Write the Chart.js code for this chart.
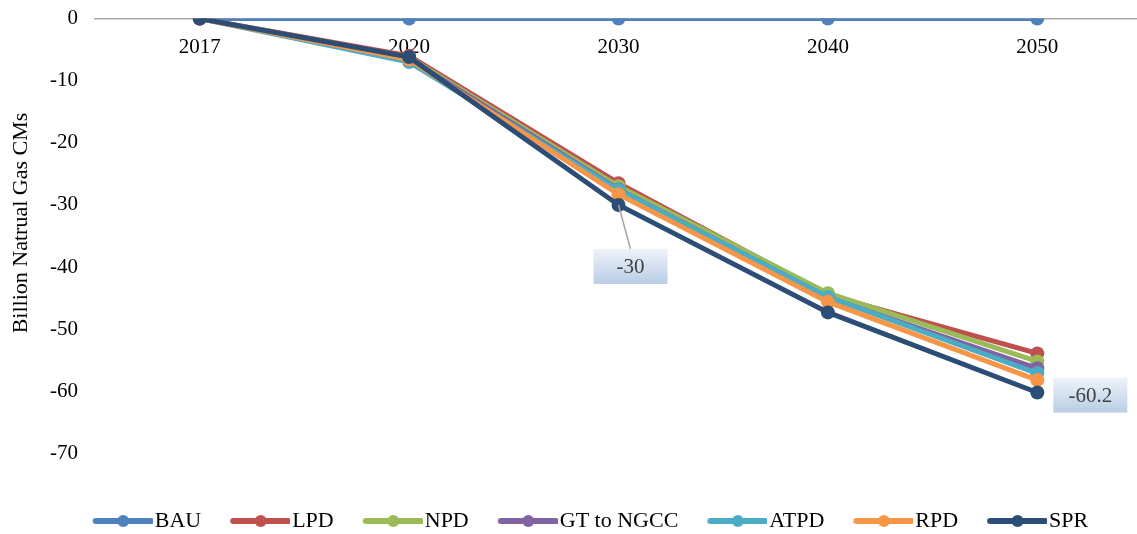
<!DOCTYPE html>
<html>
<head>
<meta charset="utf-8">
<script src="https://cdn.jsdelivr.net/npm/chart.js@4.4.1/dist/chart.umd.min.js"></script>
<style>
  html, body { margin: 0; padding: 0; background: #fff; overflow: hidden; }
  #wrap { width: 1149px; height: 545px; position: relative; margin-top: -11px; }
</style>
</head>
<body>
<div id="wrap"><canvas id="chart"></canvas></div>
<script>
const years = ['2017', '2020', '2030', '2040', '2050'];
const seriesNames = ['BAU', 'LPD', 'NPD', 'GT to NGCC', 'ATPD', 'RPD', 'SPR'];
const bau  = [0, 0, 0, 0, 0];
const lpd  = [0, -6.0, -26.5, -44.5, -53.9];
const npd  = [0, -6.3, -27.0, -44.2, -55.2];
const gt   = [0, -6.5, -27.5, -44.9, -56.3];
const atpd = [0, -7.0, -27.6, -44.8, -57.1];
const rpd  = [0, -6.6, -28.3, -45.6, -58.2];
const spr  = [0, -6.2, -30.0, -47.3, -60.2];
const yTicks = [0, -10, -20, -30, -40, -50, -60, -70];
const yTitle = 'Billion Natrual Gas CMs';
const colors = ['#4f81bd', '#c0504d', '#9bbb59', '#8064a2', '#4bacc6', '#f79646', '#2c4d75'];

const allSeries = [bau, lpd, npd, gt, atpd, rpd, spr];
const font = 'Liberation Serif';

// legend swatch: line + marker, with some blank room on the left as item spacing
const SW_BOX = 70;      // pointStyleWidth
const SW_IMG = 88;      // image width, centred on the box
function swatch(color) {
    const c = document.createElement('canvas');
    c.width = SW_IMG; c.height = 16;
    const g = c.getContext('2d');
    const off = SW_IMG / 2 - SW_BOX / 2;   // image x of box left edge
    const x0 = off + 22, x1 = off + 77;
    g.strokeStyle = color; g.lineWidth = 6; g.lineCap = 'round';
    g.beginPath(); g.moveTo(x0, 8); g.lineTo(x1, 8); g.stroke();
    g.fillStyle = color;
    g.beginPath(); g.arc((x0 + x1) / 2, 8, 6, 0, Math.PI * 2); g.fill();
    return c;
}

// callout labels on SPR points
const callouts = [
    { idx: 2, text: '-30', dx: 12, dy: 44, leader: true },
    { idx: 4, text: '-60.2', dx: 16, dy: -15, leader: false }
];
const calloutPlugin = {
    id: 'callouts',
    afterDatasetsDraw(chart) {
        const ctx = chart.ctx;
        const xs = chart.scales.x, ys = chart.scales.y;
        callouts.forEach(c => {
            const px = xs.getPixelForValue(c.idx);
            const py = ys.getPixelForValue(spr[c.idx]);
            const w = 74, h = 35;
            const bx = c.leader ? px + c.dx - w / 2 : px + c.dx;
            const by = py + c.dy;
            ctx.save();
            if (c.leader) {
                ctx.strokeStyle = '#a6a6a6'; ctx.lineWidth = 1.5;
                ctx.beginPath(); ctx.moveTo(px, py); ctx.lineTo(px + c.dx, by); ctx.stroke();
            }
            const grad = ctx.createLinearGradient(0, by, 0, by + h);
            grad.addColorStop(0, '#eef3fa');
            grad.addColorStop(1, '#b9cde5');
            ctx.fillStyle = grad;
            ctx.fillRect(bx, by, w, h);
            ctx.fillStyle = '#404040';
            ctx.font = '21px ' + font;
            ctx.textAlign = 'center'; ctx.textBaseline = 'middle';
            ctx.fillText(c.text, bx + w / 2, by + h / 2 + 1);
            ctx.restore();
        });
    },
    // y axis title sits above the middle in the original
    afterDraw(chart) {
        const ctx = chart.ctx;
        ctx.save();
        ctx.translate(21, 234);
        ctx.rotate(-Math.PI / 2);
        ctx.fillStyle = '#000';
        ctx.font = '22px ' + font;
        ctx.textAlign = 'center'; ctx.textBaseline = 'middle';
        ctx.fillText(yTitle, 0, 0);
        ctx.restore();
    }
};

// squeeze the legend box and nudge it right like the original
const legendTweak = {
    id: 'legendTweak',
    beforeLayout(chart) {
        const lg = chart.legend;
        if (lg && !lg._tweaked) {
            const fit = lg.fit;
            lg.fit = function() { fit.call(this); this.height = 34; };
            lg._tweaked = true;
        }
    },
    afterLayout(chart) {
        const lg = chart.legend;
        lg.left += 8; lg.right += 8;
    }
};

new Chart(document.getElementById('chart'), {
    type: 'line',
    data: {
        labels: years,
        datasets: allSeries.map((d, i) => ({
            label: seriesNames[i],
            data: d,
            borderColor: colors[i],
            backgroundColor: colors[i],
            borderWidth: 5,
            pointRadius: 7,
            pointHoverRadius: 7,
            pointBorderWidth: 0,
            order: 7 - i,
            tension: 0
        }))
    },
    options: {
        responsive: true,
        maintainAspectRatio: false,
        animation: false,
        layout: { padding: { top: 0, right: 3, left: 0, bottom: 0 } },
        plugins: {
            tooltip: { enabled: false },
            legend: {
                position: 'bottom',
                labels: {
                    usePointStyle: true,
                    pointStyleWidth: SW_BOX,
                    color: '#000',
                    font: { family: font, size: 22 },
                    padding: 10,
                    sort: (a, b) => a.datasetIndex - b.datasetIndex,
                    generateLabels(chart) {
                        return chart.data.datasets.map((ds, i) => ({
                            text: ds.label,
                            datasetIndex: i,
                            pointStyle: swatch(colors[i]),
                            fillStyle: colors[i],
                            strokeStyle: colors[i],
                            lineWidth: 0,
                            fontColor: '#000'
                        }));
                    }
                }
            }
        },
        scales: {
            x: {
                type: 'category',
                position: { y: 0 },
                offset: true,
                grid: { display: false, drawTicks: false },
                border: { display: true, color: '#a6a6a6', width: 1.5 },
                ticks: { color: '#000', font: { family: font, size: 21 }, padding: 16, maxRotation: 0 }
            },
            y: {
                min: -77.5,
                max: 0,
                grid: { display: false, drawTicks: false },
                border: { display: false },
                afterBuildTicks(scale) { scale.ticks = yTicks.map(v => ({ value: v })); },
                afterFit(scale) { scale.width = 95; },
                ticks: { color: '#000', font: { family: font, size: 21 }, padding: 17 }
            }
        }
    },
    plugins: [calloutPlugin, legendTweak]
});
</script>
</body>
</html>
